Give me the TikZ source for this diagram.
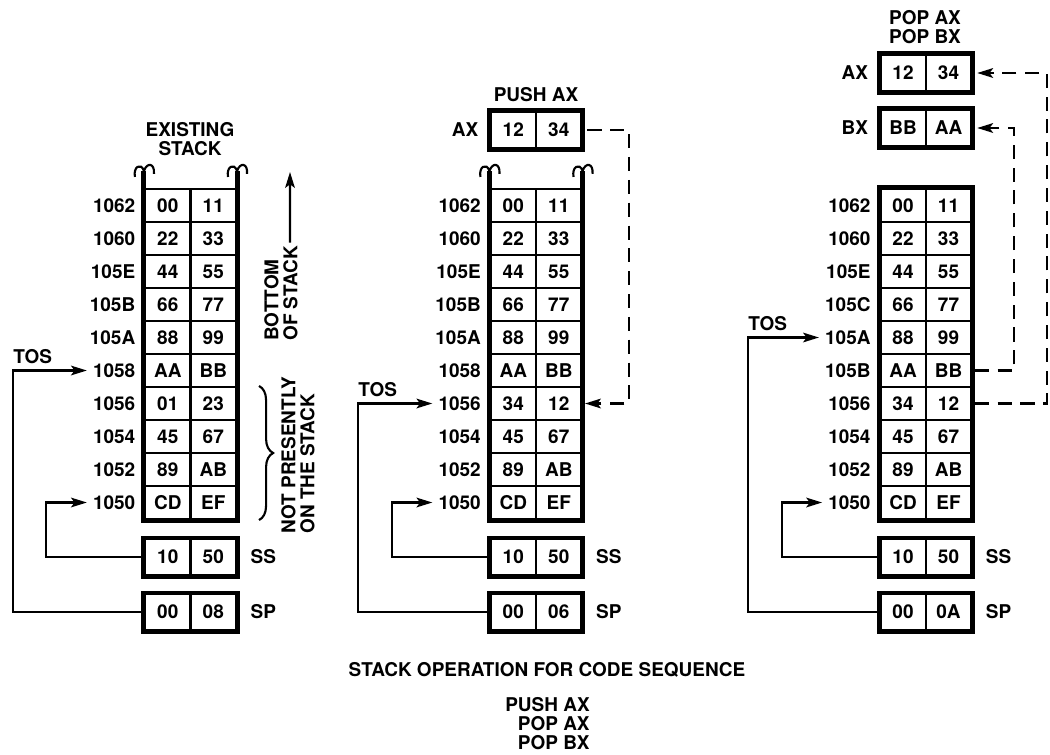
\documentclass[tikz,border=0pt]{standalone}
\usepackage{fontspec}
\setmainfont{TeX Gyre Heros}
\usetikzlibrary{arrows.meta, positioning, fit, decorations.pathreplacing}

\begin{document}
\begin{tikzpicture}[x=0.02cm, y=-0.02cm,
  font=\bfseries\fontsize{10.8}{10.8}\selectfont,
  bytecell/.style={draw, line width=1.2pt, minimum width=0.91cm, minimum height=0.66cm, inner sep=0pt},
  regcell/.style={bytecell, minimum height=0.72cm},
  regframe/.style={draw, line width=2.8pt, inner sep=0pt},
  sideline/.style={line width=2.8pt},
  conn/.style={line width=1.3pt, -{Stealth[length=9pt, width=5.5pt, inset=2pt]}},
  movedash/.style={conn, dash pattern=on 8pt off 5pt, shorten <=1.4pt, shorten >=1.4pt},
  curl/.pic={\draw[line width=1.2pt] (-9,6) .. controls (-11,-4) and (-3,-9) .. (0,0) .. controls (3,-9) and (11,-8) .. (10,3);}]
  \useasboundingbox (0,0) rectangle (1050,754);

  % Existing stack
  \node[align=center] (L-title) at (190,139) {EXISTING\\STACK};
  \foreach \addr/\hi/\lo [count=\i from 0] in {1062/00/11, 1060/22/33, 105E/44/55, 105B/66/77, 105A/88/99,
      1058/AA/BB, 1056/01/23, 1054/45/67, 1052/89/AB, 1050/CD/EF} {
    \node[bytecell] (L\i-a) at (167.75, {205.5+33*\i}) {\hi};
    \node[bytecell] (L\i-b) at (213.25, {205.5+33*\i}) {\lo};
    \node[left=0.05cm of L\i-a] (L\i-n) {\addr};
  }
  \draw[sideline] ([yshift=0.34cm]L0-a.north west) -- (L9-a.south west) -- (L9-b.south east) -- ([yshift=0.34cm]L0-b.north east);
  \pic at ([yshift=0.34cm]L0-a.north west) {curl};
  \pic at ([yshift=0.34cm]L0-b.north east) {curl};

  % After PUSH AX
  \node (M-title) at (536,95) {PUSH AX};
  \foreach \addr/\hi/\lo [count=\i from 0] in {1062/00/11, 1060/22/33, 105E/44/55, 105B/66/77, 105A/88/99,
      1058/AA/BB, 1056/34/12, 1054/45/67, 1052/89/AB, 1050/CD/EF} {
    \node[bytecell] (M\i-a) at (513.25, {205.5+33*\i}) {\hi};
    \node[bytecell] (M\i-b) at (558.75, {205.5+33*\i}) {\lo};
    \node[left=0.05cm of M\i-a] (M\i-n) {\addr};
  }
  \draw[sideline] ([yshift=0.34cm]M0-a.north west) -- (M9-a.south west) -- (M9-b.south east) -- ([yshift=0.34cm]M0-b.north east);
  \pic at ([yshift=0.34cm]M0-a.north west) {curl};
  \pic at ([yshift=0.34cm]M0-b.north east) {curl};

  % After POP AX, POP BX
  \node[align=center] (R-title) at (925,27) {POP AX\\POP BX};
  \foreach \addr/\hi/\lo [count=\i from 0] in {1062/00/11, 1060/22/33, 105E/44/55, 105C/66/77, 105A/88/99,
      105B/AA/BB, 1056/34/12, 1054/45/67, 1052/89/AB, 1050/CD/EF} {
    \node[bytecell] (R\i-a) at (903, {205.5+33*\i}) {\hi};
    \node[bytecell] (R\i-b) at (948.5, {205.5+33*\i}) {\lo};
    \node[left=0.05cm of R\i-a] (R\i-n) {\addr};
  }
  \node[regframe, fit=(R0-a)(R9-b)] (R-stack) {};

  % Registers, name on the right
  \foreach \reg/\cx/\cy/\hi/\lo/\txt in {L-SS/167.75/557/10/50/SS, L-SP/167.75/612/00/08/SP,
      M-SS/513.25/557/10/50/SS, M-SP/513.25/612/00/06/SP, R-SS/903/557/10/50/SS, R-SP/903/612/00/0A/SP} {
    \node[regcell] (\reg-a) at (\cx,\cy) {\hi};
    \node[regcell] (\reg-b) at ({\cx+45.5},\cy) {\lo};
    \node[regframe, fit=(\reg-a)(\reg-b)] (\reg) {};
    \node[right=0.1cm of \reg] (\reg-l) {\txt};
  }
  % Registers, name on the left
  \foreach \reg/\cx/\cy/\hi/\lo/\txt in {M-AX/513.25/130/12/34/AX, R-AX/903/73/12/34/AX, R-BX/903/128/BB/AA/BX} {
    \node[regcell] (\reg-a) at (\cx,\cy) {\hi};
    \node[regcell] (\reg-b) at ({\cx+45.5},\cy) {\lo};
    \node[regframe, fit=(\reg-a)(\reg-b)] (\reg) {};
    \node[left=0.05cm of \reg] (\reg-l) {\txt};
  }

  % SP and SS pointers
  \coordinate (Ltos) at (13,0);
  \coordinate (Lss) at (46,0);
  \node[anchor=south west, inner xsep=0pt, inner ysep=3.5pt] (L-tos) at (Ltos |- L5-n) {TOS};
  \draw[conn] (L-SP.west) -| (Ltos |- L5-n) -- (L5-n);
  \draw[conn] (L-SS.west) -| (Lss |- L9-n) -- (L9-n);

  \coordinate (Mtos) at (358,0);
  \coordinate (Mss) at (392,0);
  \node[anchor=south west, inner xsep=0pt, inner ysep=3.5pt] (M-tos) at (Mtos |- M6-n) {TOS};
  \draw[conn] (M-SP.west) -| (Mtos |- M6-n) -- (M6-n);
  \draw[conn] (M-SS.west) -| (Mss |- M9-n) -- (M9-n);

  \coordinate (Rtos) at (748,0);
  \coordinate (Rss) at (782,0);
  \node[anchor=south west, inner xsep=0pt, inner ysep=3.5pt] (R-tos) at (Rtos |- R4-n) {TOS};
  \draw[conn] (R-SP.west) -| (Rtos |- R4-n) -- (R4-n);
  \draw[conn] (R-SS.west) -| (Rss |- R9-n) -- (R9-n);

  % data moves
  \draw[movedash] (M-AX.east) -- ++(44,0) |- (M6-b.east);
  \draw[movedash] (R5-b.east) -- ++(42,0) |- (R-BX.east);
  \draw[movedash] (R6-b.east) -- ++(75,0) |- (R-AX.east);

  % side notes
  \node[rotate=90, anchor=west, align=left, inner sep=0pt] (L-bos) at (281,341) {BOTTOM\\OF STACK};
  \coordinate (L-bos-tip) at (290,172);
  \draw[conn] ([xshift=0.18cm, yshift=0.06cm]L-bos.east) -- (L-bos-tip);
  \draw[decorate, decoration={brace, amplitude=8pt}, line width=1.2pt]
    ([xshift=0.44cm]L6-b.north east) -- ([xshift=0.44cm]L9-b.south east);
  \node[rotate=90, anchor=west, align=left, inner sep=0pt] (L-nps) at (298,534) {NOT PRESENTLY\\ON THE STACK};

  % caption
  \node (cap) at (547,670) {STACK OPERATION FOR CODE SEQUENCE};
  \node[align=right, anchor=north east, inner sep=0pt] (seq) at (590,697) {PUSH AX\\POP AX\\POP BX};
\end{tikzpicture}
\end{document}
